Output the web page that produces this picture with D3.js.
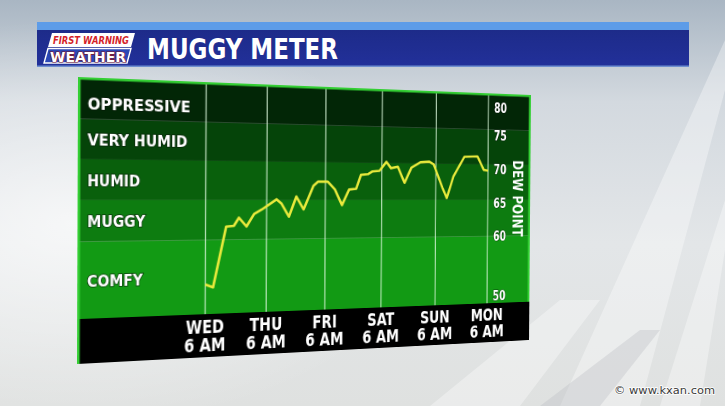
<!DOCTYPE html>
<html><head><meta charset="utf-8">
<script src="https://cdn.jsdelivr.net/npm/d3@7"></script>
<style>
html,body{margin:0;padding:0;width:725px;height:406px;overflow:hidden;background:#dfe3e6;}
#bg{position:absolute;left:0;top:0;}
#panel{position:absolute;left:0;top:0;transform-origin:0 0;}
text{font-family:"DejaVu Sans Condensed","DejaVu Sans",sans-serif;font-weight:bold;}
</style></head><body>
<svg id="bg" width="725" height="406"></svg>
<div id="panel"></div>
<script>
// ---------------- data ----------------
const title = "MUGGY METER";
const days = ["WED", "THU", "FRI", "SAT", "SUN", "MON"];
const dayHours = [0, 24, 48, 72, 96, 120];           // hours after Wed 6 AM
const dayTime = "6 AM";
const bandNames = ["COMFY", "MUGGY", "HUMID", "VERY HUMID", "OPPRESSIVE"];
const bandEdges = [50, 60, 65.4, 70.7, 75.9, 81.3];  // dew point (°F)
const dewTicks = [50, 60, 65, 70, 75, 80];
const axisTitle = "DEW POINT";
const hours = [0, 3, 8, 11, 13, 16, 19, 22, 28, 30, 33, 36, 39, 43, 45, 49, 52, 55, 58, 61,
               63, 66, 68, 71, 74, 76, 79, 82, 85, 89, 93, 95, 99, 101, 104, 109, 115, 118, 120];
const dewpoint = [54.0, 53.6, 61.8, 61.9, 63.0, 61.8, 63.5, 64.1, 65.5, 64.9, 63.1, 65.9, 64.1, 67.4, 68.0, 68.0, 66.9, 64.7, 66.9, 67.0,
                  69.0, 69.1, 69.5, 69.6, 70.9, 70.0, 70.2, 67.9, 70.1, 70.9, 71.0, 70.6, 67.2, 65.7, 68.9, 71.8, 71.9, 69.9, 69.8];
const credit = "© www.kxan.com";

// ---------------- styles ----------------
const bandColors = ["#129a14", "#0d7c10", "#09600c", "#054409", "#022606"];

// ---------------- background ----------------
const bg = d3.select("#bg");
const defs = bg.append("defs");
const sky = defs.append("linearGradient").attr("id","sky").attr("x1",0).attr("y1",0).attr("x2",0).attr("y2",1);
sky.append("stop").attr("offset","0").attr("stop-color","#a9b6c3");
sky.append("stop").attr("offset","0.25").attr("stop-color","#d3d9df");
sky.append("stop").attr("offset","0.6").attr("stop-color","#e3e6e8");
sky.append("stop").attr("offset","1").attr("stop-color","#dfe1e0");
bg.append("rect").attr("width",725).attr("height",406).attr("fill","url(#sky)");
const glow = defs.append("radialGradient").attr("id","glow").attr("cx",0.1).attr("cy",0.55).attr("r",0.5);
glow.append("stop").attr("offset",0).attr("stop-color","#ffffff").attr("stop-opacity",0.7);
glow.append("stop").attr("offset",1).attr("stop-color","#ffffff").attr("stop-opacity",0);
bg.append("rect").attr("width",725).attr("height",406).attr("fill","url(#glow)");
// light beams
[[ [560,406],[640,406],[725,90],[725,40] ], [ [660,406],[700,406],[725,250],[725,200] ], [ [430,406],[520,406],[600,300],[560,300] ]]
  .forEach(p => bg.append("polygon").attr("points", p.join(" ")).attr("fill","#ffffff").attr("opacity",0.35));
bg.append("polygon").attr("points","540,406 600,406 660,330 640,330").attr("fill","#b9bec2").attr("opacity",0.35);

// header banner
const hdr = defs.append("linearGradient").attr("id","hdr").attr("x1",0).attr("y1",0).attr("x2",0).attr("y2",1);
hdr.append("stop").attr("offset",0).attr("stop-color","#1c2a86");
hdr.append("stop").attr("offset",1).attr("stop-color","#22309a");
bg.append("rect").attr("x",37).attr("y",22).attr("width",652).attr("height",45).attr("fill","url(#hdr)");
bg.append("rect").attr("x",37).attr("y",22).attr("width",652).attr("height",8).attr("fill","#5d9ce8");
bg.append("rect").attr("x",37).attr("y",65.5).attr("width",652).attr("height",1.5).attr("fill","#6f8fd0");
// logo
bg.append("polygon").attr("points","52,33 135,33 131,47 48,47").attr("fill","#ffffff");
bg.append("polygon").attr("points","48,48.5 131,48.5 127,63 44,63").attr("fill","#2b47b5").attr("stroke","#ffffff").attr("stroke-width",1.4);
bg.append("text").attr("x",53).attr("y",44).attr("font-size",10.5).attr("font-style","italic")
  .attr("fill","#d41f2a").attr("textLength",76).attr("lengthAdjust","spacingAndGlyphs").text("FIRST WARNING");
bg.append("text").attr("x",50).attr("y",61.5).attr("font-size",14.5).attr("fill","#ffffff")
  .attr("stroke","#7a1426").attr("stroke-width",1.2).attr("paint-order","stroke")
  .attr("textLength",76).attr("lengthAdjust","spacingAndGlyphs").text("WEATHER");
bg.append("text").attr("x",147).attr("y",58.5).attr("font-size",28).attr("fill","#ffffff")
  .attr("textLength",191).attr("lengthAdjust","spacingAndGlyphs").text(title);
// credit
bg.append("text").attr("x",614).attr("y",394).attr("font-size",10.5)
  .style("font-family","'DejaVu Sans',sans-serif").style("font-weight","normal")
  .attr("fill","#3a3a3a").attr("stroke","#ffffff").attr("stroke-width",1.5).attr("paint-order","stroke")
  .attr("textLength",101).attr("lengthAdjust","spacingAndGlyphs").text(credit);

// ---------------- chart panel (flat, then projected) ----------------
const W = 490, H = 287, plotH = 242;
const svg = d3.select("#panel").append("svg").attr("width",W).attr("height",H);

const x = d3.scaleLinear().domain([0,120]).range([123.5, 437.1]);
const y = d3.scaleLinear().domain([bandEdges[0], bandEdges[bandEdges.length-1]]).range([plotH, 0]);

// bands
const bands = bandNames.map((n,i)=>({name:n, lo:bandEdges[i], hi:bandEdges[i+1], c:bandColors[i]}));
svg.selectAll("rect.band").data(bands).join("rect").attr("class","band")
  .attr("x",0).attr("width",W)
  .attr("y",d=>y(d.hi)).attr("height",d=>y(d.lo)-y(d.hi)).attr("fill",d=>d.c);
// black time band
svg.append("rect").attr("x",0).attr("y",plotH).attr("width",W).attr("height",H-plotH).attr("fill","#000");

// gridlines
svg.selectAll("line.grid").data(dayHours).join("line").attr("class","grid")
  .attr("x1",d=>x(d)).attr("x2",d=>x(d)).attr("y1",0).attr("y2",plotH)
  .attr("stroke","#d8f5d8").attr("stroke-opacity",0.8).attr("stroke-width",1.3);

// band labels
function condense(sel, f){ sel.each(function(){ const w=this.getComputedTextLength(); d3.select(this).attr("textLength",w*f).attr("lengthAdjust","spacingAndGlyphs"); }); }
const bandWidths = [53, 55, 50, 96, 99];
svg.selectAll("text.band").data(bands).join("text").attr("class","band")
  .attr("x",9).attr("y",d=>y((d.lo+Math.min(d.hi,80))/2)+6.5)
  .attr("font-size",16).attr("fill","#ffffff")
  .attr("stroke","#0a1a0a").attr("stroke-width",1.6).attr("stroke-opacity",0.7).attr("paint-order","stroke")
  .attr("textLength",(d,i)=>bandWidths[i]).attr("lengthAdjust","spacingAndGlyphs")
  .text(d=>d.name);

// dew point line
const pts = hours.map((h,i)=>({h, v:dewpoint[i]}));
svg.append("path").datum(pts)
  .attr("d", d3.line().x(d=>x(d.h)).y(d=>y(d.v)))
  .attr("fill","none").attr("stroke","#e9ea3c").attr("stroke-width",2.6).attr("stroke-linejoin","round");

// right axis labels
const rl = svg.selectAll("text.tick").data(dewTicks).join("text").attr("class","tick")
  .attr("x",444).attr("y",d=>Math.max(17, Math.min(234, y(d)))+5.5)
  .attr("font-size",15).attr("fill","#ffffff")
  .attr("stroke","#000").attr("stroke-width",1.2).attr("stroke-opacity",0.6).attr("paint-order","stroke")
  .text(d=>d);
condense(rl, 0.85);
svg.append("text").attr("transform",`translate(468,121) rotate(90)`)
  .attr("text-anchor","middle").attr("font-size",18).attr("fill","#ffffff")
  .attr("textLength",89).attr("lengthAdjust","spacingAndGlyphs").text(axisTitle);

// day labels
const dl = svg.selectAll("g.day").data(days).join("g").attr("class","day")
  .attr("transform",(d,i)=>`translate(${x(dayHours[i])},0)`);
const t1 = dl.append("text").attr("y",262).attr("text-anchor","middle").attr("font-size",19).attr("fill","#fff").text(d=>d);
const t2 = dl.append("text").attr("y",281.5).attr("text-anchor","middle").attr("font-size",19).attr("fill","#fff").text(dayTime);
condense(t1, 0.86); condense(t2, 0.87);

// border: top, left (full height), right (green area only)
svg.append("path").attr("d",`M1.2,${H} L1.2,1.2 L${W-1.2},1.2 L${W-1.2},${plotH}`)
  .attr("fill","none").attr("stroke","#34cf34").attr("stroke-width",2.5);

// ---------------- perspective projection of the panel ----------------
function homography(W,H,p0,p1,p2,p3){
  const [x0,y0]=p0,[x1,y1]=p1,[x2,y2]=p2,[x3,y3]=p3;
  const dx1=x1-x2, dx2=x3-x2, dx3=x0-x1+x2-x3;
  const dy1=y1-y2, dy2=y3-y2, dy3=y0-y1+y2-y3;
  const det=dx1*dy2-dx2*dy1;
  const g=(dx3*dy2-dx2*dy3)/det, h=(dx1*dy3-dx3*dy1)/det;
  const a=x1-x0+g*x1, b=x3-x0+h*x3, c=x0;
  const d=y1-y0+g*y1, e=y3-y0+h*y3, f=y0;
  return `matrix3d(${a/W},${d/W},0,${g/W},${b/H},${e/H},0,${h/H},0,0,1,0,${c},${f},0,1)`;
}
d3.select("#panel").style("transform", homography(W,H,[78,77],[531,95],[529,340],[77,364]));
</script>
</body></html>
